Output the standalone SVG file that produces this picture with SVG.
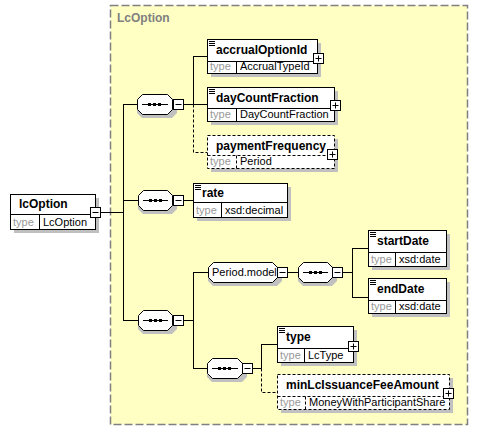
<svg xmlns="http://www.w3.org/2000/svg" width="478" height="431" viewBox="0 0 478 431">
<style>
.name{font-family:"Liberation Sans",Arial,sans-serif;font-size:12px;font-weight:bold;fill:#000}
.tl{font-family:"Liberation Sans",Arial,sans-serif;font-size:11px;fill:#999}
.tv{font-family:"Liberation Sans",Arial,sans-serif;font-size:11px;fill:#000}
.box{fill:#fff;stroke:#000;stroke-width:1}
.opt{fill:#fff;stroke:#000;stroke-width:1;stroke-dasharray:3,2}
.sh{fill:#c0c0c0}
.ln{stroke:#000;stroke-width:1;fill:none}
.dl{stroke:#000;stroke-width:1;fill:none;stroke-dasharray:3,2}
.btn{fill:#fff;stroke:#000;stroke-width:1}
.ic{stroke:#000;stroke-width:1}
</style>
<rect width="478" height="431" fill="#fff"/>
<g id="container">
<rect x="110.5" y="5.5" width="357" height="419" fill="#ffffc4" stroke="#808080" stroke-width="1.5" stroke-dasharray="8,3"/>
<text x="117" y="22" font-family="Liberation Sans,Arial,sans-serif" font-size="12" font-weight="bold" fill="#808080">LcOption</text>
</g>
<g id="connectors">
<path class="ln" d="M100,212.5H123.5M123.5,104V320.5M123,104.5H137M123,200.5H138M123,320.5H138"/>
<path class="ln" d="M183,104.5H193.5M193.5,56V104.5M193,56.5H207M193,104.5H207"/>
<path class="dl" d="M193.5,104.5V152.5H207"/>
<path class="ln" d="M183,200.5H193"/>
<path class="ln" d="M183,320.5H193.5M193.5,272V368.5M193,272.5H208M193,368.5H207"/>
<path class="ln" d="M287,272.5H298M342,272.5H352.5M352.5,248V297.5M352,248.5H368M352,297.5H368"/>
<path class="ln" d="M252,368.5H261.5M261.5,344V368.5M261,344.5H277"/>
<path class="dl" d="M261.5,368.5V392.5H277"/>
</g>
<g id="lcOption">
<rect class="sh" x="14" y="198" width="85" height="35"/>
<rect class="box" x="10.5" y="194.5" width="85" height="35"/>
<path class="ln" d="M10.5,214.5H95.5M39.5,214.5V229.5"/>
<text class="name" x="19" y="208">lcOption</text>
<text class="tl" x="13" y="226">type</text>
<text class="tv" x="43" y="226">LcOption</text>
<rect class="btn" x="90.5" y="207.5" width="10" height="10"/>
<path class="ln" d="M92.5,212.5H98.5"/>
</g>
<g id="seq1">
<path class="sh" d="M142,98H172L177,103V113L172,118H142L137,113V103Z"/>
<path class="box" d="M142.5,94.5H167.5L172.5,99.5V109.5L167.5,114.5H142.5L137.5,109.5V99.5Z"/>
<path class="ln" d="M142,104.5H168"/>
<rect x="148" y="103" width="3" height="3"/><rect x="153" y="103" width="3" height="3"/><rect x="158" y="103" width="3" height="3"/>
<rect class="btn" x="173.5" y="99.5" width="10" height="10"/>
<path class="ln" d="M175.5,104.5H181.5"/>
</g>
<g id="accrualOptionId">
<rect class="sh" x="211" y="43" width="110" height="34"/>
<rect class="box" x="207.5" y="39.5" width="110" height="34"/>
<path class="ln" d="M207.5,61.5H317.5M236.5,61.5V73.5"/>
<path class="ic" d="M209,41.5H215M209,43.5H215M209,45.5H215"/>
<text class="name" x="216" y="54">accrualOptionId</text>
<text class="tl" x="210" y="70">type</text>
<text class="tv" x="240" y="70">AccrualTypeId</text>
<rect class="btn" x="313.5" y="53.5" width="10" height="10"/>
<path class="ln" d="M315.5,58.5H321.5M318.5,55.5V61.5"/>
</g>
<g id="dayCountFraction">
<rect class="sh" x="211" y="91" width="127" height="34"/>
<rect class="box" x="207.5" y="87.5" width="127" height="34"/>
<path class="ln" d="M207.5,108.5H334.5M236.5,108.5V121.5"/>
<path class="ic" d="M209,89.5H215M209,91.5H215M209,93.5H215"/>
<text class="name" x="216" y="102">dayCountFraction</text>
<text class="tl" x="210" y="118">type</text>
<text class="tv" x="240" y="118">DayCountFraction</text>
<rect class="btn" x="330.5" y="100.5" width="10" height="10"/>
<path class="ln" d="M332.5,105.5H338.5M335.5,102.5V108.5"/>
</g>
<g id="paymentFrequency">
<rect class="sh" x="211" y="139" width="127" height="33"/>
<rect class="opt" x="207.5" y="135.5" width="127" height="33"/>
<path class="dl" d="M207.5,155.5H334.5M236.5,155.5V168.5"/>
<text class="name" x="216" y="150">paymentFrequency</text>
<text class="tl" x="210" y="165">type</text>
<text class="tv" x="240" y="165">Period</text>
<rect class="btn" x="327.5" y="149.5" width="10" height="10"/>
<path class="ln" d="M329.5,154.5H335.5M332.5,151.5V157.5"/>
</g>
<g id="seq2">
<path class="sh" d="M143,194H172L177,199V209L172,214H143L138,209V199Z"/>
<path class="box" d="M143.5,190.5H167.5L172.5,195.5V205.5L167.5,210.5H143.5L138.5,205.5V195.5Z"/>
<path class="ln" d="M143,200.5H168"/>
<rect x="149" y="199" width="3" height="3"/><rect x="154" y="199" width="3" height="3"/><rect x="159" y="199" width="3" height="3"/>
<rect class="btn" x="173.5" y="195.5" width="10" height="10"/>
<path class="ln" d="M175.5,200.5H181.5"/>
</g>
<g id="rate">
<rect class="sh" x="197" y="187" width="94" height="34"/>
<rect class="box" x="193.5" y="183.5" width="94" height="34"/>
<path class="ln" d="M193.5,202.5H287.5M221.5,202.5V217.5"/>
<path class="ic" d="M195,185.5H201M195,187.5H201M195,189.5H201"/>
<text class="name" x="202" y="197">rate</text>
<text class="tl" x="196" y="214">type</text>
<text class="tv" x="225" y="214">xsd:decimal</text>
</g>
<g id="seq3">
<path class="sh" d="M143,314H172L177,319V329L172,334H143L138,329V319Z"/>
<path class="box" d="M143.5,310.5H167.5L172.5,315.5V325.5L167.5,330.5H143.5L138.5,325.5V315.5Z"/>
<path class="ln" d="M143,320.5H168"/>
<rect x="149" y="319" width="3" height="3"/><rect x="154" y="319" width="3" height="3"/><rect x="159" y="319" width="3" height="3"/>
<rect class="btn" x="173.5" y="315.5" width="10" height="10"/>
<path class="ln" d="M175.5,320.5H181.5"/>
</g>
<g id="PeriodModel">
<path class="sh" d="M213,266H277L282,271V281L277,286H213L208,281V271Z"/>
<path class="box" d="M213.5,262.5H272.5L277.5,267.5V277.5L272.5,282.5H213.5L208.5,277.5V267.5Z"/>
<text class="tv" x="212" y="276">Period.model</text>
<rect class="btn" x="277.5" y="267.5" width="10" height="10"/>
<path class="ln" d="M279.5,272.5H285.5"/>
</g>
<g id="seq5">
<path class="sh" d="M303,266H332L337,271V281L332,286H303L298,281V271Z"/>
<path class="box" d="M303.5,262.5H327.5L332.5,267.5V277.5L327.5,282.5H303.5L298.5,277.5V267.5Z"/>
<path class="ln" d="M303,272.5H328"/>
<rect x="309" y="271" width="3" height="3"/><rect x="314" y="271" width="3" height="3"/><rect x="319" y="271" width="3" height="3"/>
<rect class="btn" x="332.5" y="267.5" width="10" height="10"/>
<path class="ln" d="M334.5,272.5H340.5"/>
</g>
<g id="startDate">
<rect class="sh" x="372" y="234" width="78" height="36"/>
<rect class="box" x="368.5" y="230.5" width="78" height="36"/>
<path class="ln" d="M368.5,252.5H446.5M395.5,252.5V266.5"/>
<path class="ic" d="M370,232.5H376M370,234.5H376M370,236.5H376"/>
<text class="name" x="377" y="245">startDate</text>
<text class="tl" x="371" y="263">type</text>
<text class="tv" x="399" y="263">xsd:date</text>
</g>
<g id="endDate">
<rect class="sh" x="372" y="282" width="78" height="35"/>
<rect class="box" x="368.5" y="278.5" width="78" height="35"/>
<path class="ln" d="M368.5,300.5H446.5M395.5,300.5V313.5"/>
<path class="ic" d="M370,280.5H376M370,282.5H376M370,284.5H376"/>
<text class="name" x="377" y="293">endDate</text>
<text class="tl" x="371" y="310">type</text>
<text class="tv" x="399" y="310">xsd:date</text>
</g>
<g id="seq4">
<path class="sh" d="M212,362H242L247,367V377L242,382H212L207,377V367Z"/>
<path class="box" d="M212.5,358.5H237.5L242.5,363.5V373.5L237.5,378.5H212.5L207.5,373.5V363.5Z"/>
<path class="ln" d="M212,368.5H238"/>
<rect x="218" y="367" width="3" height="3"/><rect x="223" y="367" width="3" height="3"/><rect x="228" y="367" width="3" height="3"/>
<rect class="btn" x="242.5" y="363.5" width="10" height="10"/>
<path class="ln" d="M244.5,368.5H250.5"/>
</g>
<g id="type">
<rect class="sh" x="281" y="330" width="76" height="36"/>
<rect class="box" x="277.5" y="326.5" width="76" height="36"/>
<path class="ln" d="M277.5,348.5H353.5M304.5,348.5V362.5"/>
<path class="ic" d="M279,328.5H285M279,330.5H285M279,332.5H285"/>
<text class="name" x="286" y="341">type</text>
<text class="tl" x="280" y="359">type</text>
<text class="tv" x="308" y="359">LcType</text>
<rect class="btn" x="348.5" y="341.5" width="10" height="10"/>
<path class="ln" d="M350.5,346.5H356.5M353.5,343.5V349.5"/>
</g>
<g id="minLcIssuanceFeeAmount">
<rect class="sh" x="281" y="378" width="172" height="35"/>
<rect class="opt" x="277.5" y="374.5" width="172" height="35"/>
<path class="dl" d="M277.5,396.5H449.5M305.5,396.5V409.5"/>
<text class="name" x="286" y="389">minLcIssuanceFeeAmount</text>
<text class="tl" x="280" y="406">type</text>
<text class="tv" x="309" y="406">MoneyWithParticipantShare</text>
<rect class="btn" x="443.5" y="388.5" width="10" height="10"/>
<path class="ln" d="M445.5,393.5H451.5M448.5,390.5V396.5"/>
</g>
</svg>
